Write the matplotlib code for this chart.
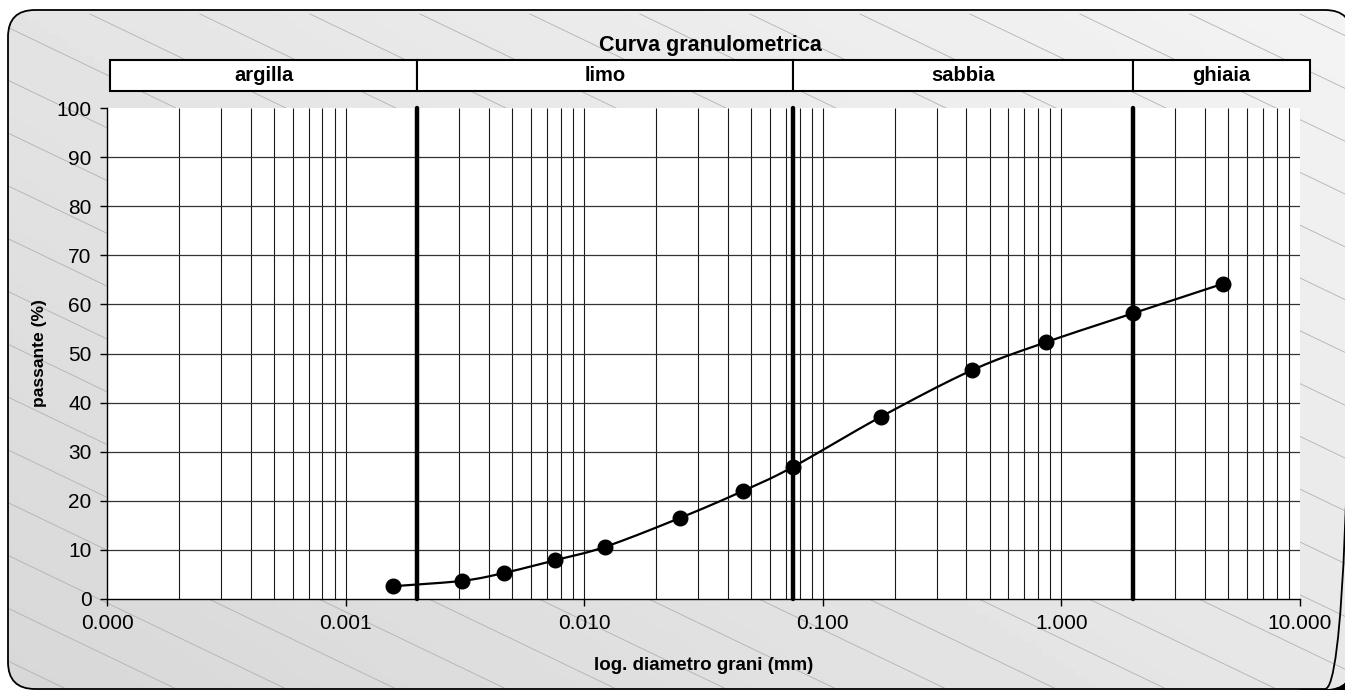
import numpy as np
import matplotlib
matplotlib.use("Agg")
import matplotlib.pyplot as plt
from matplotlib.patches import FancyBboxPatch, Rectangle
from matplotlib.lines import Line2D
from matplotlib import font_manager
from matplotlib.ticker import FixedLocator, FuncFormatter, NullLocator
import matplotlib.transforms as mtrans

# ---- data ----
diam_mm = [0.00158, 0.00308, 0.00461, 0.00755, 0.0122, 0.0252, 0.0463,
           0.075, 0.175, 0.422, 0.862, 2.0, 4.75]
passing = [2.6, 3.7, 5.3, 7.9, 10.6, 16.5, 22.0, 26.9, 37.1, 46.6, 52.3, 58.2, 64.2]
class_names = ["argilla", "limo", "sabbia", "ghiaia"]
class_bounds = [0.002, 0.075, 2.0]
x_ticks = [0.0001, 0.001, 0.01, 0.1, 1, 10]
y_ticks = [0, 10, 20, 30, 40, 50, 60, 70, 80, 90, 100]
title = "Curva granulometrica"
xlabel = "log. diametro grani (mm)"
ylabel = "passante (%)"

names = {f.name for f in font_manager.fontManager.ttflist}
narrow = "Liberation Sans Narrow" if "Liberation Sans Narrow" in names else "Liberation Sans"
plt.rcParams['font.family'] = ['Liberation Sans', 'DejaVu Sans']

W, H = 1345, 690
fig = plt.figure(figsize=(W / 100, H / 100), dpi=100)

# ---- background panel ----
bg = fig.add_axes([0, 0, 1, 1])
bg.axis('off')

x0, y0, x1, y1, r = 8, 10, 1352, 689, 27
so = 5


def rbox(dx=0, dy=0, **kw):
    return FancyBboxPatch((x0 + r + dx, y0 + r + dy), (x1 - x0) - 2 * r, (y1 - y0) - 2 * r,
                          boxstyle=f"round,pad={r}", transform=bg.transData, **kw)


# shadow only visible around the bottom-right corner
shadow = rbox(so, so, fc='black', ec='none', lw=0, zorder=0)
bg.add_patch(shadow)
corner_clip = Rectangle((1300, 640), 60, 60, transform=bg.transData)
shadow.set_clip_path(corner_clip)

clip = rbox(fc='#e4e4e4', ec='none', zorder=0.5)
bg.add_patch(clip)
# diagonal gradient: light at top-right, darker at bottom-left
gx, gy = np.meshgrid(np.linspace(0, 1, 200), np.linspace(0, 1, 100))
t = (gx * 0.55 + (1 - gy) * 0.45)
light, dark = 0.955, 0.845
img = dark + (light - dark) * t
im = bg.imshow(img, extent=[0, W, H, 0], cmap='gray', vmin=0, vmax=1,
               aspect='auto', zorder=1, origin='upper')
im.set_clip_path(clip)
# diagonal hatch lines
slope = 0.48
for s in np.arange(-2000, 1500, 110):
    xs = np.array([s, s + 2000])
    ys = 14 + slope * (xs - s)
    ln = Line2D(xs, ys, color='#b2b2b2', lw=0.6, zorder=2)
    bg.add_line(ln)
    ln.set_clip_path(clip)
frame = rbox(fc='none', ec='black', lw=1.3, zorder=5)
bg.add_patch(frame)
bg.set_xlim(0, W)
bg.set_ylim(H, 0)

# ---- main axes ----
left, right, top, bottom = 107, 1300, 108, 599
ax = fig.add_axes([left / W, 1 - bottom / H, (right - left) / W, (bottom - top) / H])
ax.set_facecolor('white')
ax.set_xscale('log')
ax.set_xlim(x_ticks[0], x_ticks[-1])
ax.set_ylim(0, 100)

# grid lines
vpos = [m * 10.0 ** k for k in range(-4, 1) for m in range(1, 10)][1:]
ax.vlines(vpos, 0, 100, colors='#1a1a1a', lw=0.8, zorder=1)
ax.hlines(y_ticks[1:-1], x_ticks[0], x_ticks[-1], colors='#333333', lw=0.9, zorder=1)

# class boundaries
for b in class_bounds:
    ax.plot([b, b], [0, 100], color='black', lw=3.2, solid_capstyle='round', zorder=3,
            clip_on=False)

# smooth curve (Catmull-Rom in log space)
u = np.log10(diam_mm)
v = np.array(passing)
P = np.column_stack([u, v])
Pext = np.vstack([2 * P[0] - P[1], P, 2 * P[-1] - P[-2]])
cu, cv = [], []
for i in range(1, len(Pext) - 2):
    p0, p1, p2, p3 = Pext[i - 1], Pext[i], Pext[i + 1], Pext[i + 2]
    for tt in np.linspace(0, 1, 30):
        t2, t3 = tt * tt, tt * tt * tt
        pt = 0.5 * ((2 * p1) + (-p0 + p2) * tt + (2 * p0 - 5 * p1 + 4 * p2 - p3) * t2
                    + (-p0 + 3 * p1 - 3 * p2 + p3) * t3)
        cu.append(pt[0]); cv.append(pt[1])
ax.plot(10 ** np.array(cu), cv, color='black', lw=1.6, zorder=4)
ax.plot(diam_mm, passing, 'o', color='black', ms=10.5, zorder=5, linestyle='none')

# spines / ticks
for s in ['top', 'right']:
    ax.spines[s].set_visible(False)
ax.spines['left'].set_linewidth(1.0)
ax.spines['bottom'].set_linewidth(1.0)
ax.xaxis.set_major_locator(FixedLocator(x_ticks))
ax.xaxis.set_minor_locator(NullLocator())
ax.xaxis.set_major_formatter(FuncFormatter(lambda x, p: f"{x:.3f}"))
ax.set_yticks(y_ticks)
ax.tick_params(axis='both', direction='out', length=5, width=1, labelsize=15, pad=6,
               colors='black')
ax.set_xlabel(xlabel, fontsize=13.5, fontweight='bold', family=[narrow, 'DejaVu Sans'],
              labelpad=17)
ax.set_ylabel(ylabel, fontsize=12.6, fontweight='bold', family=[narrow, 'DejaVu Sans'],
              labelpad=7)

# class band boxes
trans = mtrans.blended_transform_factory(ax.transData, ax.transAxes)
ylo = (bottom - 91) / (bottom - top)
yhi = (bottom - 60) / (bottom - top)
edges = [1.03e-4] + class_bounds + [11.0]
for name, a, b in zip(class_names, edges[:-1], edges[1:]):
    rect = Rectangle((a, ylo), b - a, yhi - ylo, transform=trans, fc='white',
                     ec='black', lw=1.5, clip_on=False, zorder=6)
    ax.add_patch(rect)
    ax.text(np.sqrt(a * b), (ylo + yhi) / 2, name, transform=trans, ha='center',
            va='center', fontsize=14.5, fontweight='bold', family=[narrow, 'DejaVu Sans'],
            zorder=7)
ax.text(np.sqrt(edges[0] * edges[-1]), (bottom - 45) / (bottom - top), title,
        transform=trans, ha='center', va='center', fontsize=15.5, fontweight='bold',
        family=[narrow, 'DejaVu Sans'], zorder=7)

fig.savefig("out.png", dpi=100)
